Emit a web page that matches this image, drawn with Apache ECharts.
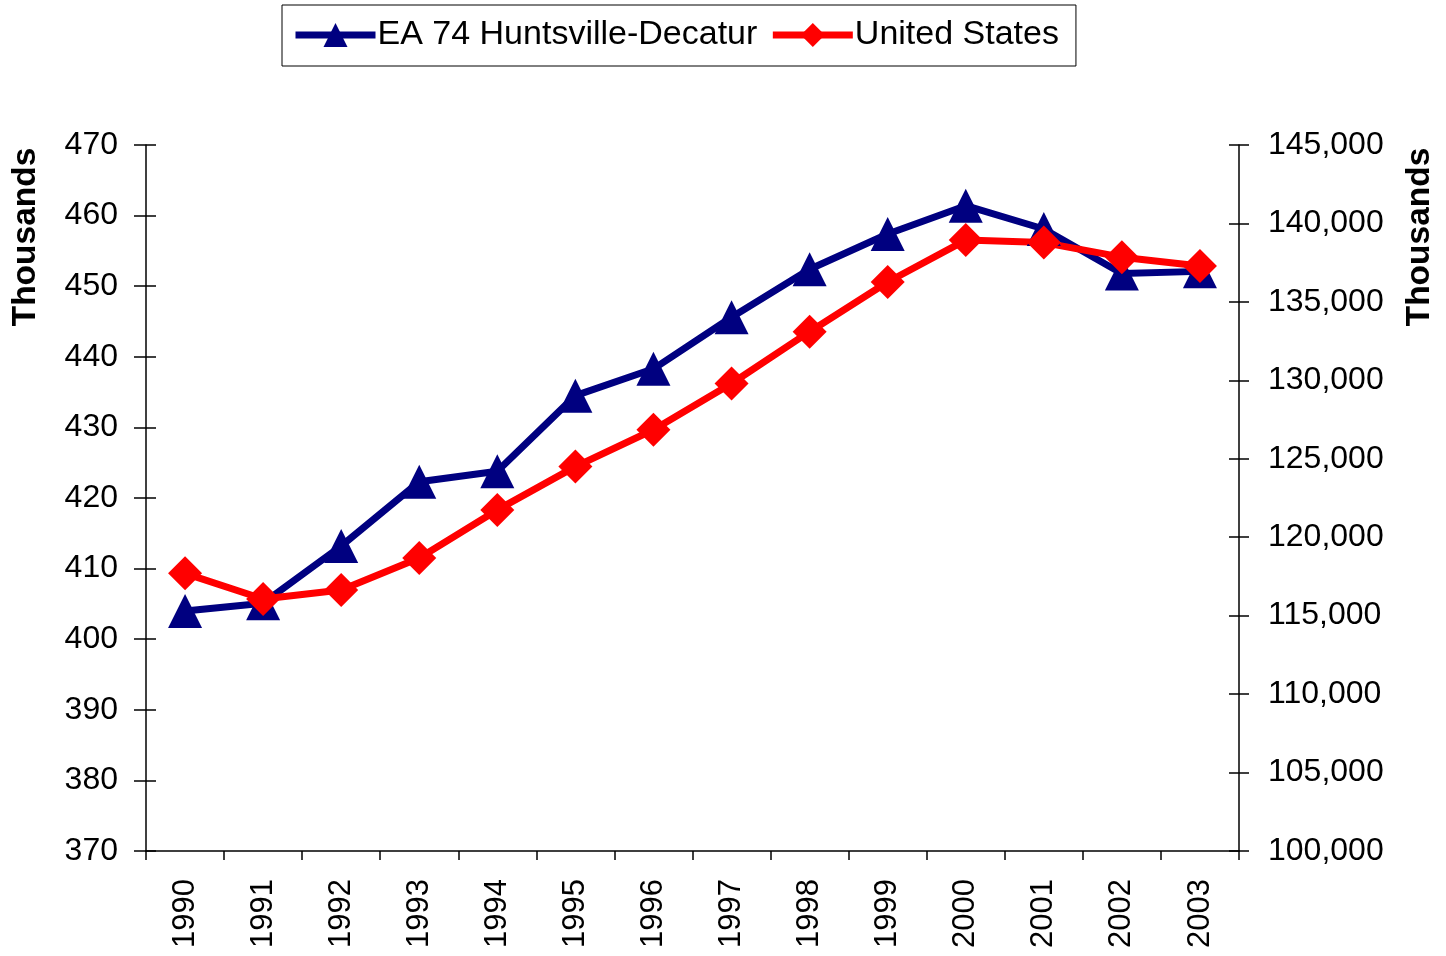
<!DOCTYPE html>
<html>
<head>
<meta charset="utf-8">
<script src="https://cdn.jsdelivr.net/npm/echarts@6/dist/echarts.min.js"></script>
<style>
  html,body{margin:0;padding:0;background:#fff;}
  #chart{width:1446px;height:956px;}
</style>
</head>
<body>
<div id="chart"></div>
<script>
  var years = ['1990','1991','1992','1993','1994','1995','1996','1997','1998','1999','2000','2001','2002','2003'];
  // EA 74 Huntsville-Decatur, thousands (left axis)
  var huntsville = [404.0, 405.1, 413.2, 422.3, 423.8, 434.5, 438.3, 445.6, 452.4, 457.4, 461.4, 458.1, 451.8, 452.1];
  // United States, thousands (right axis)
  var usa = [117700, 116060, 116640, 118680, 121740, 124500, 126850, 129800, 133100, 136270, 138940, 138780, 137850, 137290];

  var font = '"Liberation Sans", Arial, sans-serif';

  function commas(v){
    return String(v).replace(/\B(?=(\d{3})+(?!\d))/g, ',');
  }

  var myChart = echarts.init(document.getElementById('chart'));

  var option = {
    backgroundColor: '#fff',
    animation: false,
    legend: {
      left: 282,
      top: 5,
      padding: [13, 17, 14, 10],
      borderColor: '#000',
      borderWidth: 1,
      itemWidth: 80,
      itemHeight: 30,
      itemGap: 12,
      lineStyle: { width: 7 },
      textStyle: { fontFamily: font, fontSize: 34, color: '#000', padding: [0, 0, 0, -3] },
      data: ['EA 74 Huntsville-Decatur', 'United States']
    },
    grid: { left: 146, right: 207, top: 145, bottom: 105 },
    xAxis: {
      type: 'category',
      data: years,
      boundaryGap: true,
      axisLine: { lineStyle: { color: '#000', width: 1.5 } },
      axisTick: { show: true, interval: 0, length: 9, lineStyle: { color: '#000', width: 1.5 } },
      axisLabel: { rotate: 90, margin: 28, fontFamily: font, fontSize: 31, color: '#000', interval: 0 },
      splitLine: { show: false }
    },
    yAxis: [
      {
        type: 'value', position: 'left', min: 370, max: 470, interval: 10,
        axisLine: { show: true, lineStyle: { color: '#000', width: 1.5 } },
        axisTick: { show: true, length: 12, lineStyle: { color: '#000', width: 1.5 } },
        axisLabel: { margin: 28, fontFamily: font, fontSize: 32, color: '#000' },
        splitLine: { show: false }
      },
      {
        type: 'value', position: 'right', min: 100000, max: 145000, interval: 5000,
        axisLine: { show: true, lineStyle: { color: '#000', width: 1.5 } },
        axisTick: { show: true, length: 10, lineStyle: { color: '#000', width: 1.5 } },
        axisLabel: { margin: 29, fontFamily: font, fontSize: 32, color: '#000', formatter: commas },
        splitLine: { show: false }
      },
      {
        // inner half of the crossing ticks on the left
        type: 'value', position: 'left', min: 370, max: 470, interval: 10,
        axisLine: { show: false },
        axisTick: { show: true, inside: true, length: 10, lineStyle: { color: '#000', width: 1.5 } },
        axisLabel: { show: false },
        splitLine: { show: false }
      },
      {
        type: 'value', position: 'right', min: 100000, max: 145000, interval: 5000,
        axisLine: { show: false },
        axisTick: { show: true, inside: true, length: 10, lineStyle: { color: '#000', width: 1.5 } },
        axisLabel: { show: false },
        splitLine: { show: false }
      }
    ],
    graphic: [
      {
        type: 'text', x: 26, y: 237, rotation: Math.PI / 2,
        style: { text: 'Thousands', fontFamily: font, fontWeight: 'bold', fontSize: 33.5, fill: '#000', align: 'center', verticalAlign: 'middle' }
      },
      {
        type: 'text', x: 1420, y: 237, rotation: Math.PI / 2,
        style: { text: 'Thousands', fontFamily: font, fontWeight: 'bold', fontSize: 33.5, fill: '#000', align: 'center', verticalAlign: 'middle' }
      }
    ],
    series: [
      {
        name: 'EA 74 Huntsville-Decatur',
        type: 'line',
        yAxisIndex: 0,
        data: huntsville,
        symbol: 'triangle',
        symbolSize: [34, 34],
        lineStyle: { color: '#000080', width: 7 },
        itemStyle: { color: '#000080' }
      },
      {
        name: 'United States',
        type: 'line',
        yAxisIndex: 1,
        data: usa,
        symbol: 'diamond',
        symbolSize: [34, 34],
        lineStyle: { color: '#ff0000', width: 7 },
        itemStyle: { color: '#ff0000' }
      }
    ]
  };

  myChart.setOption(option);
</script>
</body>
</html>
